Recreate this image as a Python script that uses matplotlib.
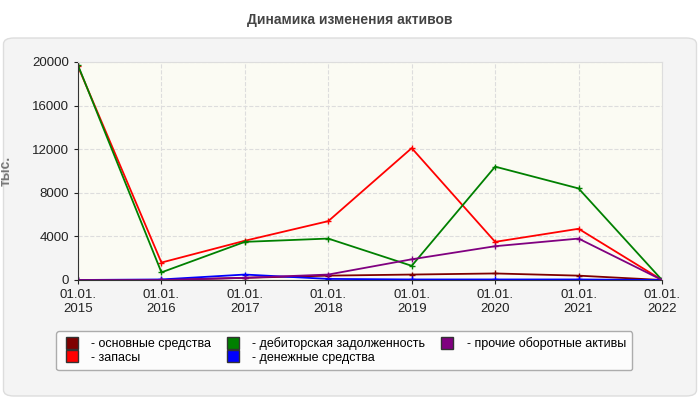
import matplotlib.pyplot as plt
from matplotlib.patches import FancyBboxPatch

plt.rcParams["font.family"] = "Liberation Sans"

dates = ["01.01.\n2015", "01.01.\n2016", "01.01.\n2017", "01.01.\n2018",
         "01.01.\n2019", "01.01.\n2020", "01.01.\n2021", "01.01.\n2022"]
fixed_assets = [0, 0, 200, 400, 500, 600, 400, 0]
inventory = [19600, 1600, 3600, 5400, 12100, 3500, 4700, 0]
receivables = [19700, 700, 3500, 3800, 1300, 10400, 8400, 0]
cash = [0, 50, 500, 100, 50, 50, 50, 0]
other_assets = [0, 0, 200, 500, 1900, 3100, 3800, 0]

series = [
    ("- основные средства", fixed_assets, "#800000"),
    ("- запасы", inventory, "#ff0000"),
    ("- дебиторская задолженность", receivables, "#008000"),
    ("- денежные средства", cash, "#0000ff"),
    ("- прочие оборотные активы", other_assets, "#800080"),
]

fig = plt.figure(figsize=(7, 4), dpi=100)
fig.patch.set_facecolor("white")
panel = FancyBboxPatch((0.005, 0.01), 0.99, 0.895, boxstyle="round,pad=0,rounding_size=0.015",
                       transform=fig.transFigure, facecolor="#f4f4f4", edgecolor="#dddddd",
                       zorder=-10)
fig.patches.append(panel)
fig.text(0.5, 0.95, "Динамика изменения активов", ha="center", va="center",
         fontsize=10, fontweight="bold", color="#444444")

ax = fig.add_axes([78 / 700, 1 - 280 / 400, 584 / 700, 218 / 400])
ax.set_facecolor("#fbfbf3")
x = list(range(len(dates)))
for label, vals, color in series:
    ax.plot(x, vals, color=color, lw=1.3, marker="+", ms=4, mew=1, label=label)
ax.set_xlim(0, len(dates) - 1)
ax.set_ylim(0, 20000)
ax.set_yticks(range(0, 20001, 4000))
ax.set_xticks(x)
ax.set_xticklabels(dates)
ax.tick_params(labelsize=9.5, colors="#222222", length=3)
ax.grid(True, color="#dddddd", ls="--", lw=0.8)
for s in ax.spines.values():
    s.set_color("#dddddd")
ax.spines["left"].set_color("#333333")
ax.spines["bottom"].set_color("#333333")
ax.set_ylabel("тыс.", fontsize=10, color="#777777", fontweight="bold", labelpad=14)

handles, labels = ax.get_legend_handles_labels()
leg = fig.legend(handles, labels,
                 loc="upper left", bbox_to_anchor=(50 / 700, 1 - 325 / 400), ncol=3,
                 fontsize=9, frameon=True, handlelength=1.5, handleheight=0.8,
                 columnspacing=1.0, labelspacing=0.1, borderpad=0.5)
leg.get_frame().set_edgecolor("#999999")
leg.get_frame().set_facecolor("white")
for h, (_, _, c) in zip(leg.legend_handles, series):
    h.set_marker("s"); h.set_markersize(8); h.set_linestyle("")
    h.set_markeredgecolor("#333333"); h.set_markerfacecolor(c)

fig.savefig("out.png", dpi=100)
